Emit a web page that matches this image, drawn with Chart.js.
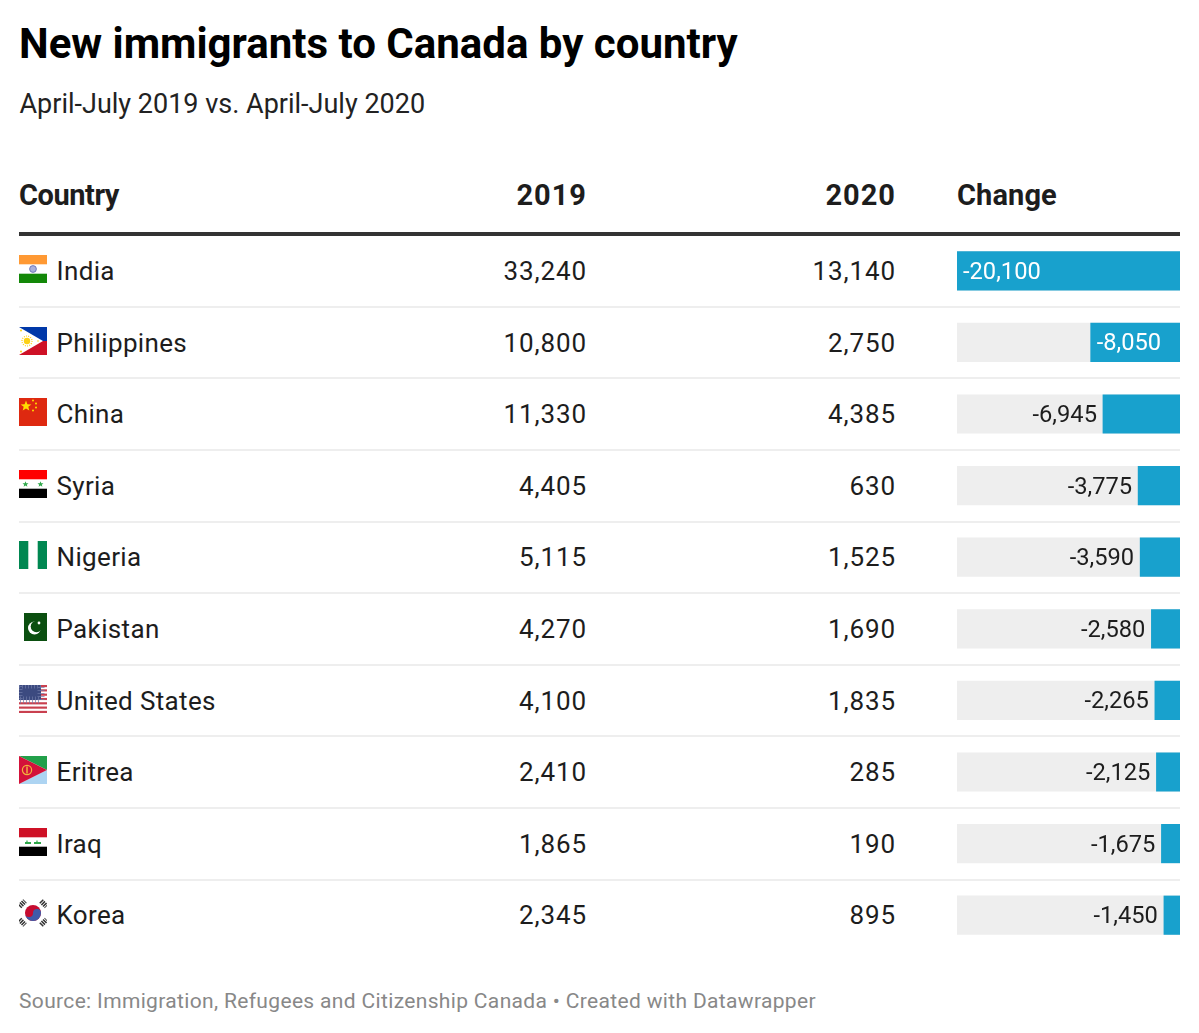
<!DOCTYPE html>
<html>
<head>
<meta charset="utf-8">
<script src="https://cdn.jsdelivr.net/npm/chart.js@4"></script>
<style>
  html, body { margin: 0; background: #fff; }
  body { width: 1199px; height: 1033px; position: relative; overflow: hidden; font-family: Roboto, sans-serif; color: #1d1d1d; }
  .t { position: absolute; white-space: nowrap; line-height: 40px; height: 40px; }
  .r { text-align: right; width: 200px; }
  .head { font-weight: 700; font-size: 29px; letter-spacing: -0.45px; top: 175px; color: #1d1d1d; }
  .head.r { font-size: 29px; letter-spacing: 1px; }
  .cell { font-size: 26px; letter-spacing: 0.35px; }
  .cell.r { letter-spacing: 0.9px; }
  .rule { position: absolute; left: 19px; width: 1161px; height: 2px; background: #eeeeee; }
  .flag { position: absolute; left: 19px; width: 28px; height: 28px; }
  #chart-box { position: absolute; left: 957px; top: 235.2px; width: 223px; height: 716px; }
</style>
</head>
<body>
<div class="t" style="left:19px;top:24px;font-weight:700;font-size:42px;color:#000">New immigrants to Canada by country</div>
<div class="t" style="left:19.5px;top:84px;font-size:27px;color:#222">April-July 2019 vs. April-July 2020</div>

<div class="t head" style="left:19px">Country</div>
<div class="t head r" style="left:387px">2019</div>
<div class="t head r" style="left:696px">2020</div>
<div class="t head" style="left:957px;letter-spacing:0.1px">Change</div>
<div style="position:absolute;left:19px;top:232px;width:1161px;height:4px;background:#333"></div>

<div id="rows"></div>
<div id="chart-box"><canvas id="changeChart" width="223" height="716"></canvas></div>

<div class="t" style="left:19px;top:981px;font-size:21px;letter-spacing:0.34px;color:#888">Source: Immigration, Refugees and Citizenship Canada • Created with Datawrapper</div>

<script>
const countries = ["India", "Philippines", "China", "Syria", "Nigeria", "Pakistan", "United States", "Eritrea", "Iraq", "Korea"];
const values2019 = [33240, 10800, 11330, 4405, 5115, 4270, 4100, 2410, 1865, 2345];
const values2020 = [13140, 2750, 4385, 630, 1525, 1690, 1835, 285, 190, 895];
const changes = [-20100, -8050, -6945, -3775, -3590, -2580, -2265, -2125, -1675, -1450];

const ROW_H = 71.6;
const FIRST_ROW = 271;

function usStripes() {
  let s = "";
  for (let i = 0; i < 13; i += 2) s += `<rect y="${i * 28 / 13}" width="28" height="${28 / 13}" fill="#c9404f"/>`;
  return s;
}

const flags = {
  "India": `<rect width="28" height="9.3" fill="#ff9933"/><rect y="18.7" width="28" height="9.3" fill="#138808"/><circle cx="14" cy="14" r="3.4" fill="#aab0dc" stroke="#6068b0" stroke-width="0.8"/>`,
  "Philippines": `<rect width="28" height="14" fill="#0038a8"/><rect y="14" width="28" height="14" fill="#ce1126"/><path d="M0 0L24 14L0 28Z" fill="#fff"/><circle cx="8" cy="14" r="3.2" fill="#fcd116"/><circle cx="8" cy="14" r="5" fill="none" stroke="#fcd116" stroke-width="1.2" stroke-dasharray="1 1.2"/><circle cx="2" cy="3.5" r="1" fill="#fcd116"/><circle cx="2" cy="24.5" r="1" fill="#fcd116"/><circle cx="19" cy="14" r="0.8" fill="#fcd116"/>`,
  "China": `<rect width="28" height="28" fill="#de2910"/><path d="M7 2.5L8.4 6.2L12.4 6.4L9.3 8.8L10.3 12.6L7 10.5L3.7 12.6L4.7 8.8L1.6 6.4L5.6 6.2Z" fill="#ffde00"/><circle cx="14" cy="2.5" r="1" fill="#ffde00"/><circle cx="17" cy="5.5" r="1" fill="#ffde00"/><circle cx="17" cy="9.5" r="1" fill="#ffde00"/><circle cx="14" cy="12.5" r="1" fill="#ffde00"/>`,
  "Syria": `<rect width="28" height="9.3" fill="#ff0000"/><rect y="18.7" width="28" height="9.3" fill="#000"/><path d="M6.5 11.2L7.3 13.3L9.5 13.3L7.8 14.7L8.4 16.8L6.5 15.5L4.6 16.8L5.2 14.7L3.5 13.3L5.7 13.3Z" fill="#2fa84a"/><path d="M21.5 11.2L22.3 13.3L24.5 13.3L22.8 14.7L23.4 16.8L21.5 15.5L19.6 16.8L20.2 14.7L18.5 13.3L20.7 13.3Z" fill="#2fa84a"/>`,
  "Nigeria": `<rect width="9.3" height="28" fill="#008751"/><rect x="18.7" width="9.3" height="28" fill="#008751"/>`,
  "Pakistan": `<rect x="5" width="23" height="28" fill="#0b4f10"/><circle cx="15.5" cy="15" r="6.5" fill="#fff"/><circle cx="17.5" cy="13.5" r="5.8" fill="#0b4f10"/><circle cx="20" cy="10" r="1.4" fill="#fff"/>`,
  "United States": usStripes() + `<rect width="22" height="15" fill="#3c4a80"/><rect width="22" height="15" fill="none" stroke="#6f7aa8" stroke-width="7" stroke-dasharray="1 2" opacity="0.7"/>`,
  "Eritrea": `<path d="M0 0H28V14Z" fill="#22a04a"/><path d="M0 28H28V14Z" fill="#add4f2"/><path d="M0 0L28 14L0 28Z" fill="#d3123a"/><circle cx="8" cy="14" r="4.6" fill="none" stroke="#f2b53c" stroke-width="1.2"/><rect x="7.3" y="10.5" width="1.4" height="7" fill="#f2b53c"/>`,
  "Iraq": `<rect width="28" height="9.3" fill="#ce1126"/><rect y="18.7" width="28" height="9.3" fill="#000"/><path d="M6 15H12M15 15H22" stroke="#2fa84a" stroke-width="2"/><path d="M8 12.5V15M18 12.5V15" stroke="#2fa84a" stroke-width="1.2"/>`,
  "Korea": `<circle cx="14" cy="14" r="8" fill="#c60c30"/><path d="M6 14A8 8 0 0 0 22 14A4 4 0 0 0 14 14A4 4 0 0 1 6 14Z" fill="#3f5ba9"/><g stroke="#333" stroke-width="5" stroke-dasharray="1.5 0.8"><path d="M0.5 7.5L6 2"/><path d="M22 2L27.5 7.5"/><path d="M0.5 20.5L6 26"/><path d="M22 26L27.5 20.5"/></g>`
};

const fmt = (n) => n.toLocaleString("en-US");

// table rows, plain html next to the canvas
const rows = document.getElementById("rows");
let html = "";
countries.forEach((name, i) => {
  const cy = FIRST_ROW + i * ROW_H;
  const top = cy - 20;
  html += `<svg class="flag" style="top:${cy - 16}px" viewBox="0 0 28 28">${flags[name]}</svg>`;
  html += `<div class="t cell" style="left:56.5px;top:${top}px">${name}</div>`;
  html += `<div class="t cell r" style="left:387px;top:${top}px">${fmt(values2019[i])}</div>`;
  html += `<div class="t cell r" style="left:696px;top:${top}px">${fmt(values2020[i])}</div>`;
  if (i < countries.length - 1) html += `<div class="rule" style="top:${cy + ROW_H / 2 - 1}px"></div>`;
});
rows.innerHTML = html;

const lowest = Math.min(...changes);

const barLabels = {
  id: "barLabels",
  afterDatasetsDraw(chart) {
    const ctx = chart.ctx;
    const bars = chart.getDatasetMeta(0).data;
    ctx.save();
    ctx.font = "23.7px Roboto";
    ctx.textBaseline = "middle";
    bars.forEach((bar, i) => {
      const inside = changes[i] <= -8000;
      ctx.fillStyle = inside ? "#ffffff" : "#1d1d1d";
      ctx.textAlign = inside ? "left" : "right";
      ctx.fillText(changes[i].toLocaleString("en-US"), inside ? bar.x + 6 : bar.x - 6, bar.y + 2);
    });
    ctx.restore();
  }
};

new Chart(document.getElementById("changeChart"), {
  type: "bar",
  data: {
    labels: countries,
    datasets: [
      { label: "Change", data: changes, backgroundColor: "#18a1cd", order: 1, grouped: false, barThickness: 38.5 },
      { label: "Track", data: countries.map(() => lowest), backgroundColor: "#eeeeee", order: 2, grouped: false, barThickness: 38.5 }
    ]
  },
  plugins: [barLabels],
  options: {
    indexAxis: "y",
    responsive: false,
    animation: false,
    layout: { padding: 0 },
    plugins: { legend: { display: false }, tooltip: { enabled: false } },
    scales: {
      x: { display: false, min: lowest, max: 0 },
      y: { display: false }
    }
  }
});
</script>
</body>
</html>
